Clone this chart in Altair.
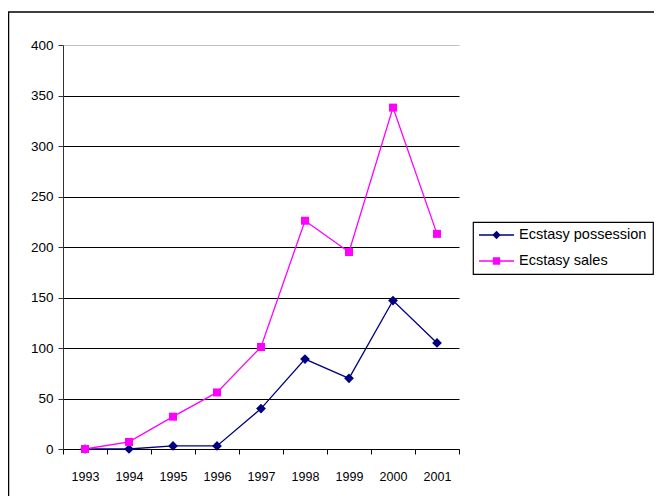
import altair as alt
import pandas as pd

# ---- data ----
years = ["1993", "1994", "1995", "1996", "1997", "1998", "1999", "2000", "2001"]
possession = [0, 0, 3, 3, 40, 89, 70, 147, 105]
sales = [0, 7, 32, 56, 101, 226, 195, 338, 213]
series_names = ["Ecstasy possession", "Ecstasy sales"]
series_colors = ["#000080", "#FF00FF"]
y_ticks = [0, 50, 100, 150, 200, 250, 300, 350, 400]

rows = []
for name, vals in zip(series_names, [possession, sales]):
    for yr, v in zip(years, vals):
        rows.append({"year": yr, "series": name, "value": v})
df = pd.DataFrame(rows)

FONT = "Liberation Sans"

# legend symbols: a line with a diamond / square marker in the middle
legend_paths = [
    "M-1,-0.037H1V0.037H-1Z M-0.24,0L0,-0.24L0.24,0L0,0.24Z",
    "M-1,-0.037H1V0.037H-1Z M-0.21,-0.21H0.21V0.21H-0.21Z",
]

color_scale = alt.Scale(domain=series_names, range=series_colors)

legend = alt.Legend(
    title=None,
    orient="none",
    legendX=410,
    legendY=177,
    strokeColor="black",
    padding=6,
    symbolSize=1225,
    symbolStrokeWidth=0,
    symbolOpacity=1,
    clipHeight=14,
    rowPadding=11,
    labelOffset=5,
    labelFont=FONT,
    labelFontSize=14.5,
    labelColor="black",
)

x_enc = alt.X(
    "year:O",
    sort=years,
    scale=alt.Scale(type="band", paddingInner=0, paddingOuter=0),
    axis=alt.Axis(
        title=None,
        tickBand="extent",
        labelAngle=0,
        labelFont=FONT,
        labelFontSize=12.5,
        labelColor="black",
        tickColor="black",
        domainColor="black",
        tickSize=5,
        labelPadding=16,
        grid=False,
    ),
)
y_enc = alt.Y(
    "value:Q",
    scale=alt.Scale(domain=[0, 400], nice=False),
    axis=alt.Axis(
        title=None,
        values=y_ticks,
        tickSize=5,
        labelPadding=5,
        labelFont=FONT,
        labelFontSize=13.5,
        labelColor="black",
        tickColor="#333333",
        domainColor="#333333",
        grid=True,
        gridColor={"condition": {"test": "datum.value === 400", "value": "#c0c0c0"}, "value": "#000000"},
        gridOpacity=1,
        gridWidth=1,
    ),
)

color_enc = alt.Color("series:N", scale=color_scale, legend=legend)

base = alt.Chart(df)

legend_layer = base.mark_point(filled=True, opacity=0).encode(
    x=x_enc,
    y=y_enc,
    color=color_enc,
    shape=alt.Shape(
        "series:N",
        scale=alt.Scale(domain=series_names, range=legend_paths),
        legend=legend,
    ),
)

lines = base.mark_line(strokeWidth=1.3).encode(
    x=x_enc,
    y=y_enc,
    color=color_enc,
)

is_poss = "datum.series === 'Ecstasy possession'"
points = base.mark_point(filled=True, opacity=1).encode(
    x=x_enc,
    y=y_enc,
    color=color_enc,
    shape=alt.condition(is_poss, alt.value("diamond"), alt.value("square")),
    size=alt.condition(is_poss, alt.value(95), alt.value(64)),
)

border = (
    alt.Chart(alt.Data(values=[{"b": 1}]))
    .mark_rect(filled=False, stroke="black", strokeWidth=1.5)
    .encode(
        x=alt.value(-54.5),
        x2=alt.value(700),
        y=alt.value(-33),
        y2=alt.value(700),
    )
)

chart = (
    alt.layer(border, legend_layer, lines, points)
    .properties(
        width=396,
        height=404,
        autosize=alt.AutoSizeParams(type="none"),
        padding={"left": 55, "top": 37, "right": 195, "bottom": 47},
        background="white",
    )
    .configure_view(stroke=None)
    .configure_legend(strokeWidth=1.2)
)

chart.save("out.html", embed_options={"renderer": "svg", "actions": False})
